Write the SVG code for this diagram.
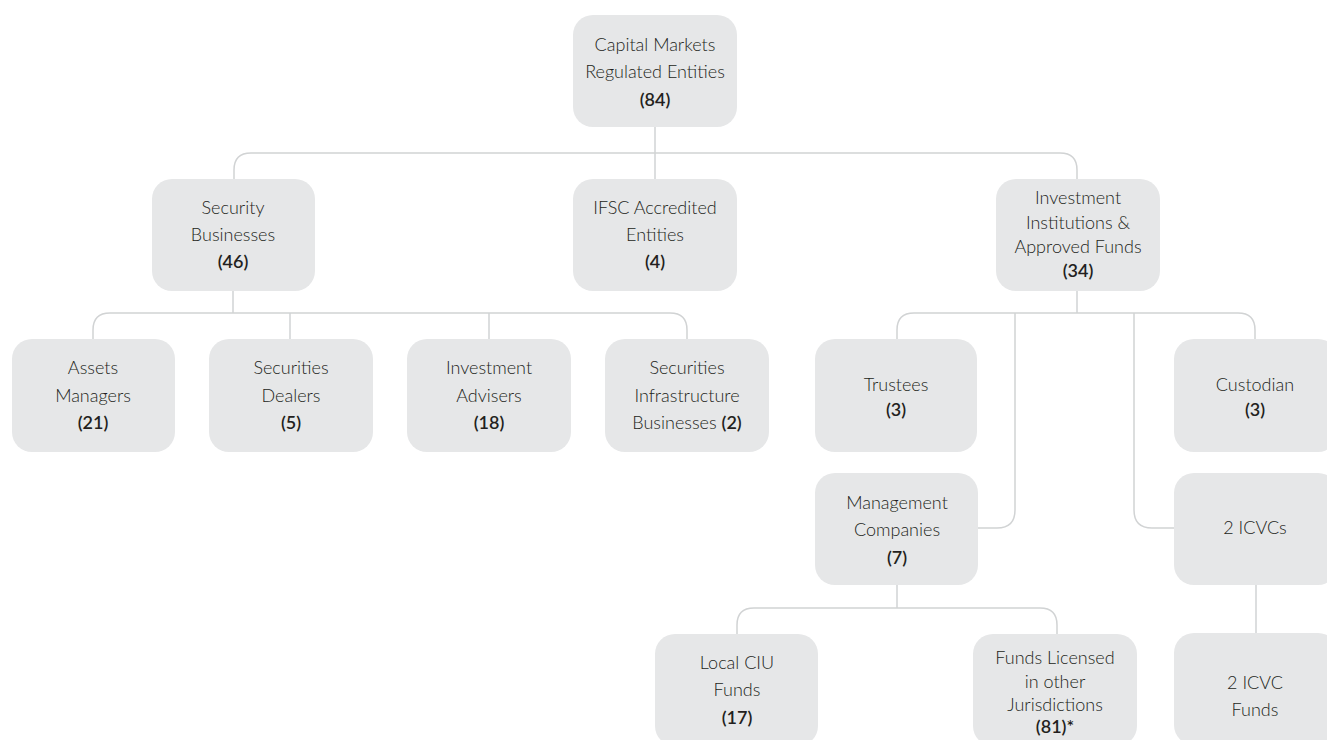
<svg xmlns="http://www.w3.org/2000/svg" width="1327" height="740" viewBox="0 0 1327 740">
<style>
.box{fill:#e6e7e8;}
.t{font-family:Lato,"Open Sans","Liberation Sans",sans-serif;font-size:18px;font-weight:300;fill:#231f20;text-anchor:middle;}
.b{font-weight:600;}
.c{fill:none;stroke:#d1d3d4;stroke-width:1.5;}
</style>
<rect width="1327" height="740" fill="#ffffff"/>
<g id="connectors">
<path class="c" d="M655,127 V179"/>
<path class="c" d="M234,179 V170 Q234,153 251,153 H1060 Q1077,153 1077,170 V179"/>
<path class="c" d="M233,291 V313"/>
<path class="c" d="M93,339 V330 Q93,313 110,313 H670 Q687,313 687,330 V339"/>
<path class="c" d="M290,313 V339"/>
<path class="c" d="M489,313 V339"/>
<path class="c" d="M1077,291 V313"/>
<path class="c" d="M897,339 V330 Q897,313 914,313 H1238 Q1255,313 1255,330 V339"/>
<path class="c" d="M1015,313 V510 Q1015,528 997,528 H978"/>
<path class="c" d="M1134,313 V510 Q1134,528 1152,528 H1174"/>
<path class="c" d="M897,585 V608"/>
<path class="c" d="M737,634 V625 Q737,608 754,608 H1040 Q1057,608 1057,625 V634"/>
<path class="c" d="M1256,585 V634"/>
</g>
<g id="n-capital">
<rect class="box" x="573" y="15" width="164" height="112" rx="20"/>
<text class="t" x="655" y="51">Capital Markets</text>
<text class="t" x="655" y="78">Regulated Entities</text>
<text class="t b" x="655" y="106">(84)</text>
</g>
<g id="n-security">
<rect class="box" x="152" y="179" width="163" height="112" rx="20"/>
<text class="t" x="233" y="214">Security</text>
<text class="t" x="233" y="241">Businesses</text>
<text class="t b" x="233" y="268">(46)</text>
</g>
<g id="n-ifsc">
<rect class="box" x="573" y="179" width="164" height="112" rx="20"/>
<text class="t" x="655" y="214">IFSC Accredited</text>
<text class="t" x="655" y="241">Entities</text>
<text class="t b" x="655" y="268">(4)</text>
</g>
<g id="n-investment">
<rect class="box" x="996" y="179" width="164" height="112" rx="20"/>
<text class="t" x="1078" y="204">Investment</text>
<text class="t" x="1078" y="229">Institutions &amp;</text>
<text class="t" x="1078" y="253">Approved Funds</text>
<text class="t b" x="1078" y="277">(34)</text>
</g>
<g id="n-assets">
<rect class="box" x="12" y="339" width="163" height="113" rx="20"/>
<text class="t" x="93" y="374">Assets</text>
<text class="t" x="93" y="402">Managers</text>
<text class="t b" x="93" y="429">(21)</text>
</g>
<g id="n-dealers">
<rect class="box" x="209" y="339" width="164" height="113" rx="20"/>
<text class="t" x="291" y="374">Securities</text>
<text class="t" x="291" y="402">Dealers</text>
<text class="t b" x="291" y="429">(5)</text>
</g>
<g id="n-advisers">
<rect class="box" x="407" y="339" width="164" height="113" rx="20"/>
<text class="t" x="489" y="374">Investment</text>
<text class="t" x="489" y="402">Advisers</text>
<text class="t b" x="489" y="429">(18)</text>
</g>
<g id="n-infra">
<rect class="box" x="605" y="339" width="164" height="113" rx="20"/>
<text class="t" x="687" y="374">Securities</text>
<text class="t" x="687" y="402">Infrastructure</text>
<text class="t" x="687" y="429">Businesses <tspan class="b">(2)</tspan></text>
</g>
<g id="n-trustees">
<rect class="box" x="815" y="339" width="162" height="113" rx="20"/>
<text class="t" x="896" y="391">Trustees</text>
<text class="t b" x="896" y="416">(3)</text>
</g>
<g id="n-custodian">
<rect class="box" x="1174" y="339" width="164" height="113" rx="20"/>
<text class="t" x="1255" y="391">Custodian</text>
<text class="t b" x="1255" y="416">(3)</text>
</g>
<g id="n-management">
<rect class="box" x="815" y="473" width="163" height="112" rx="20"/>
<text class="t" x="897" y="509">Management</text>
<text class="t" x="897" y="536">Companies</text>
<text class="t b" x="897" y="564">(7)</text>
</g>
<g id="n-icvcs">
<rect class="box" x="1174" y="473" width="164" height="112" rx="20"/>
<text class="t" x="1255" y="534">2 ICVCs</text>
</g>
<g id="n-local">
<rect class="box" x="655" y="634" width="163" height="112" rx="20"/>
<text class="t" x="737" y="669">Local CIU</text>
<text class="t" x="737" y="696">Funds</text>
<text class="t b" x="737" y="724">(17)</text>
</g>
<g id="n-funds">
<rect class="box" x="973" y="634" width="164" height="112" rx="20"/>
<text class="t" x="1055" y="664">Funds Licensed</text>
<text class="t" x="1055" y="688">in other</text>
<text class="t" x="1055" y="711">Jurisdictions</text>
<text class="t b" x="1055" y="733">(81)*</text>
</g>
<g id="n-icvcfunds">
<rect class="box" x="1174" y="633" width="164" height="112" rx="20"/>
<text class="t" x="1255" y="689">2 ICVC</text>
<text class="t" x="1255" y="716">Funds</text>
</g>
</svg>
